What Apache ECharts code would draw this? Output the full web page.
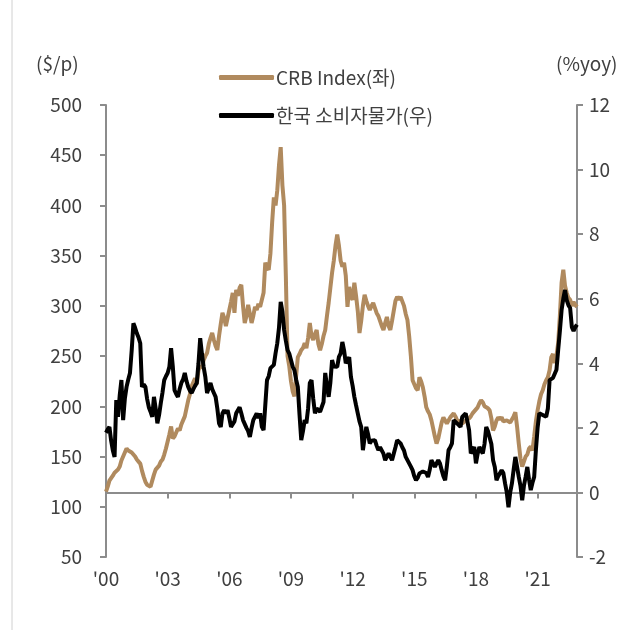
<!DOCTYPE html>
<html>
<head>
<meta charset="utf-8">
<script src="https://cdn.jsdelivr.net/npm/echarts@6/dist/echarts.min.js"></script>
<style>
html,body{margin:0;padding:0;background:#fff;}
#chart{width:631px;height:630px;}
</style>
</head>
<body>
<div id="chart"></div>
<script>
// 월별 데이터 2000.01 ~ 2022.12
var startYear = 2000;
var tickLabels = ["'00", "'03", "'06", "'09", "'12", "'15", "'18", "'21"];
var seriesNames = ['CRB Index(좌)', '한국 소비자물가(우)'];

// CRB Index ($/p)
var crb = [
    115, 120, 126, 127, 131, 134, 133, 137, 140, 146, 150, 154,
    158, 156, 157, 154, 153, 150, 147, 145, 143, 136, 130, 125,
    122, 121, 120, 126, 132, 137, 139, 141, 145, 147, 152, 158,
    165, 172, 180, 168, 170, 174, 178, 176, 182, 186, 190, 198,
    206, 212, 220, 224, 228, 222, 236, 240, 238, 246, 250, 253,
    262, 268, 273, 266, 260, 256, 270, 282, 293, 288, 280, 279,
    296, 304, 313, 293, 316, 310, 318, 321, 300, 283, 290, 301,
    292, 283, 290, 299, 296, 302, 299, 300, 313, 343, 338, 336,
    352, 383, 408, 400, 415, 440, 458, 420, 400, 330, 250, 240,
    225, 215, 210, 230, 249, 252, 256, 258, 263, 258, 268, 283,
    270, 266, 272, 276, 262, 256, 262, 270, 276, 290, 303, 318,
    333, 345, 360, 371, 360, 345, 339, 343, 330, 299, 319, 310,
    306, 323, 310, 295, 273, 285, 300, 311, 305, 300, 296, 300,
    303, 298, 293, 290, 285, 280, 276, 283, 289, 280, 276, 285,
    295, 305, 309, 306, 309, 308, 300, 292, 286, 270, 250, 226,
    222, 218, 216, 229, 225, 219, 210, 199, 195, 192, 186, 178,
    170, 163, 168, 176, 184, 189, 186, 183, 186, 189, 191, 193,
    190, 186, 187, 185, 183, 184, 186, 186, 188, 190, 193, 195,
    197, 199, 203, 206, 204, 200, 199, 198, 196, 188, 176, 180,
    186, 189, 187, 189, 185, 184, 186, 186, 184, 187, 190, 194,
    180, 163, 148, 140, 145, 150, 152, 158, 160, 156, 170, 185,
    196, 205, 212, 216, 222, 226, 229, 236, 249, 252, 243, 250,
    263, 290, 323, 336, 320, 313, 308, 306, 300, 304, 301, 299
];

// 한국 소비자물가 (%yoy)
var cpi = [
    1.85, 1.95, 2.03, 1.6, 1.3, 1.1, 2.86, 2.34, 3.0, 3.48, 2.24, 2.9,
    3.27, 3.5, 3.7, 4.4, 5.24, 5.1, 4.93, 4.8, 4.62, 3.27, 3.35, 3.27,
    2.9, 2.64, 2.5, 2.34, 2.96, 2.6, 2.14, 2.4, 2.77, 3.1, 3.48, 3.6,
    3.7, 3.89, 4.47, 3.9, 3.17, 3.05, 2.96, 3.2, 3.39, 3.5, 3.7, 3.45,
    3.27, 3.15, 3.08, 3.2, 3.3, 3.39, 4.0, 4.78, 4.3, 3.89, 3.58, 3.08,
    3.08, 3.39, 3.2, 3.08, 2.96, 2.6, 2.14, 2.03, 2.45, 2.55, 2.45, 2.55,
    2.3, 2.03, 2.03, 2.2, 2.45, 2.5, 2.64, 2.45, 2.24, 2.3, 2.0, 1.9,
    1.72, 2.0, 2.24, 2.3, 2.45, 2.3, 2.45, 2.03, 1.93, 2.7, 3.48, 3.6,
    3.85, 3.79, 3.95, 4.31, 4.62, 5.1, 5.9, 5.6, 5.03, 4.7, 4.41, 4.3,
    4.1, 3.9, 3.79, 3.5, 3.27, 2.4, 1.62, 1.9, 2.24, 2.14, 2.6, 3.39,
    3.48, 2.9, 2.45, 2.6, 2.55, 2.5, 2.45, 2.8, 3.7, 3.3, 2.96, 3.4,
    4.1, 3.9, 3.95, 3.89, 4.2, 4.31, 4.66, 4.4, 4.0, 4.1, 4.19, 3.58,
    3.3, 2.96, 2.7, 2.45, 2.2, 2.03, 1.31, 1.7, 2.03, 1.8, 1.52, 1.6,
    1.55, 1.62, 1.45, 1.31, 1.4, 1.41, 1.2, 1.0, 1.1, 1.21, 1.1, 1.0,
    1.2, 1.4, 1.62, 1.6, 1.52, 1.4, 1.3, 1.1, 1.0, 0.95, 0.8, 0.69,
    0.5, 0.38, 0.45, 0.59, 0.6, 0.65, 0.69, 0.6, 0.48, 0.7, 1.0, 0.9,
    0.79, 0.9, 1.0, 0.9, 0.69, 0.5, 0.38, 0.8, 1.31, 1.4, 1.52, 2.24,
    2.2, 2.14, 2.1, 2.03, 2.34, 2.4, 2.45, 2.2, 1.93, 1.21, 1.3, 1.41,
    0.9, 1.2, 1.41, 1.3, 1.21, 1.5, 2.03, 1.9, 1.84, 1.5, 1.0, 0.79,
    0.38, 0.5, 0.48, 0.69, 0.6, 0.28, 0.0, -0.46, 0.0, 0.28, 0.7, 1.1,
    0.8, 0.48, 0.2, -0.24, 0.2, 0.48, 0.79, 0.4, 0.07, 0.3, 0.48, 1.31,
    2.0, 2.45, 2.5, 2.4, 2.45, 2.34, 2.6, 3.48, 3.5, 3.55, 3.58, 3.8,
    4.41, 5.0, 5.65, 6.0, 6.27, 5.96, 5.8, 5.71, 5.12, 5.0, 5.12, 5.2
];

// 월 라벨
var months = [];
for (var i = 0; i < crb.length; i++) {
    var y = startYear + Math.floor(i / 12);
    var m = i % 12 + 1;
    months.push(y + '-' + (m < 10 ? '0' + m : m));
}

var font = '"Noto Sans CJK KR", "Noto Sans", sans-serif';
var axisColor = '#8c8c8c';
var textColor = '#404040';

var myChart = echarts.init(document.getElementById('chart'));
var option = {
    backgroundColor: '#fff',
    animation: false,
    textStyle: {fontFamily: font},
    grid: {left: 106, right: 54, top: 105, bottom: 73, containLabel: false},
    legend: {
        orient: 'vertical',
        left: 214,
        top: 63,
        itemGap: 19,
        itemWidth: 55,
        itemHeight: 5,
        icon: 'roundRect',
        textStyle: {fontSize: 19, color: textColor, fontFamily: font, padding: [0, 0, 0, -3]},
        data: seriesNames
    },
    xAxis: {
        type: 'category',
        boundaryGap: false,
        data: months,
        axisLine: {lineStyle: {color: axisColor, width: 2}},
        axisTick: {
            interval: function (idx) { return idx % 36 === 0; },
            length: 6,
            lineStyle: {color: axisColor, width: 2}
        },
        axisLabel: {
            interval: function (idx) { return idx % 36 === 0; },
            formatter: function (v, idx) { return tickLabels[idx / 36]; },
            color: textColor,
            fontSize: 19,
            margin: 12,
            fontFamily: font
        },
        splitLine: {show: false}
    },
    yAxis: [
        {
            type: 'value',
            min: 50, max: 500, interval: 50,
            position: 'left',
            axisLine: {show: true, lineStyle: {color: axisColor, width: 2}},
            axisTick: {show: true, length: 6, lineStyle: {color: axisColor, width: 2}},
            axisLabel: {color: textColor, fontSize: 19, margin: 24, fontFamily: font},
            splitLine: {show: false}
        },
        {
            type: 'value',
            min: -2, max: 12, interval: 2,
            position: 'right',
            axisLine: {show: true, lineStyle: {color: axisColor, width: 2}},
            axisTick: {show: true, length: 6, lineStyle: {color: axisColor, width: 2}},
            axisLabel: {color: textColor, fontSize: 19, margin: 12, fontFamily: font},
            splitLine: {show: false}
        }
    ],
    graphic: [
        {type: 'text', left: 36, top: 54, style: {text: '($/p)', font: '19px ' + font, fill: textColor}},
        {type: 'text', left: 556, top: 54, style: {text: '(%yoy)', font: '19px ' + font, fill: textColor}},
        {type: 'line', shape: {x1: 12, y1: 0, x2: 12, y2: 630}, style: {stroke: '#d0d0d0', lineWidth: 1}}
    ],
    series: [
        {
            name: seriesNames[0],
            type: 'line',
            yAxisIndex: 0,
            data: crb,
            showSymbol: false,
            symbol: 'none',
            color: '#B08A5E',
            lineStyle: {color: '#B08A5E', width: 4},
            z: 2
        },
        {
            name: seriesNames[1],
            type: 'line',
            yAxisIndex: 1,
            data: cpi,
            showSymbol: false,
            symbol: 'none',
            color: '#000',
            lineStyle: {color: '#000', width: 4},
            z: 3
        }
    ]
};
myChart.setOption(option);
</script>
</body>
</html>
